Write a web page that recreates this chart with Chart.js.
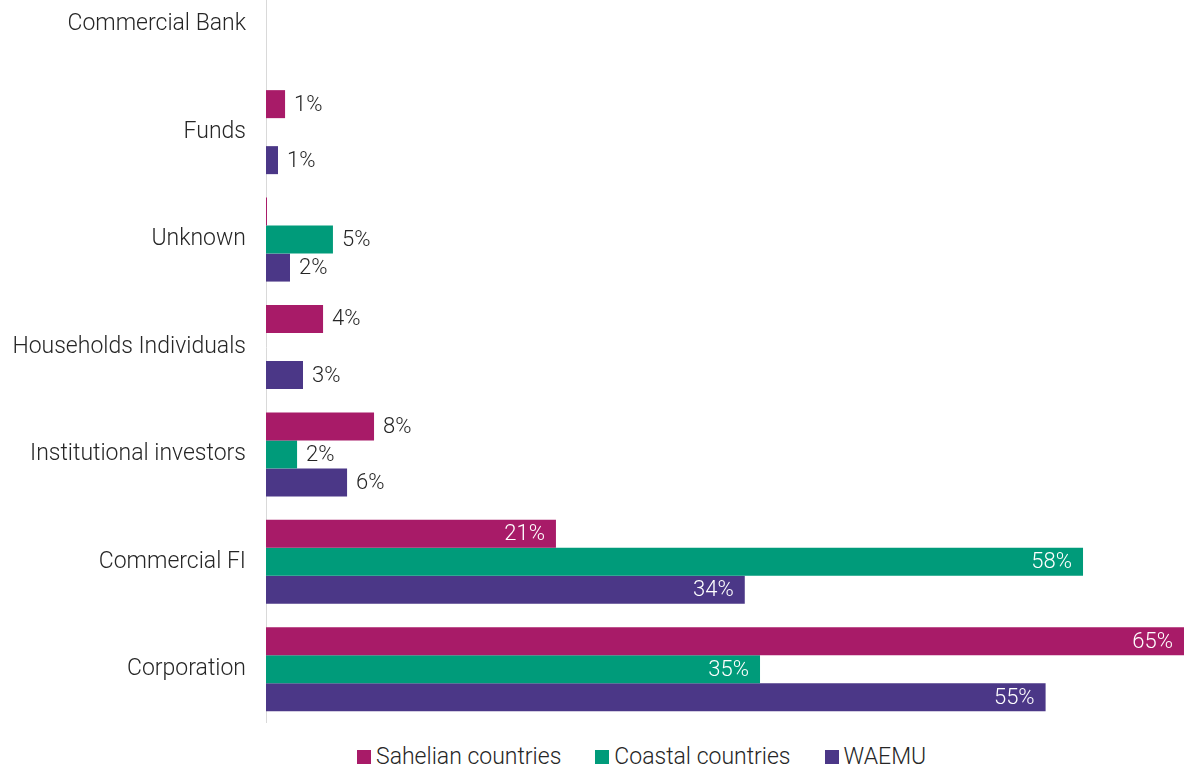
<!DOCTYPE html>
<html>
<head>
<meta charset="utf-8">
<title>Investor types</title>
<script src="https://cdn.jsdelivr.net/npm/chart.js@4.4.1/dist/chart.umd.min.js"></script>
<style>
  html, body { margin: 0; padding: 0; background: #fff; overflow: hidden; }
  #wrap { position: relative; width: 1184px; height: 770px; overflow: hidden; }
  #chart { position: absolute; left: 0; top: -29px; }
  #legend {
    position: absolute; left: 357px; top: 744px;
    display: flex; align-items: center;
    font: 300 23px Roboto, "Noto Sans", sans-serif; color: #262626;
    white-space: nowrap; line-height: 26px;
  }
  #legend .item { display: flex; align-items: center; margin-right: 34px; }
  #legend .box { width: 14px; height: 14px; margin-right: 5px; }
</style>
</head>
<body>
<div id="wrap">
  <canvas id="chart" width="1184" height="752"></canvas>
  <div id="legend"></div>
</div>
<script>
const categories = ['Commercial Bank', 'Funds', 'Unknown', 'Households Individuals', 'Institutional investors', 'Commercial FI', 'Corporation'];
const sahelian = [0, 1.35, 0.07, 4.04, 7.65, 20.53, 65];
const coastal = [0, 0, 4.74, 0, 2.2, 57.85, 34.98];
const waemu = [0, 0.85, 1.7, 2.62, 5.74, 33.9, 55.2];
const seriesNames = ['Sahelian countries', 'Coastal countries', 'WAEMU'];
const seriesColors = ['#A81B68', '#009B7A', '#4B3787'];

const FONT = 'Roboto, "Noto Sans", sans-serif';

// value labels: outside for small bars, white inside the end for large ones
const barLabels = {
  id: 'barLabels',
  afterDatasetsDraw(chart) {
    const ctx = chart.ctx;
    ctx.save();
    ctx.font = '300 22px ' + FONT;
    ctx.textBaseline = 'middle';
    chart.data.datasets.forEach((ds, i) => {
      const meta = chart.getDatasetMeta(i);
      meta.data.forEach((bar, j) => {
        const v = ds.data[j];
        if (v < 0.5) return;
        const txt = Math.round(v) + '%';
        if (v > 15) {
          ctx.fillStyle = '#ffffff';
          ctx.textAlign = 'right';
          ctx.fillText(txt, bar.x - 11, bar.y + 1);
        } else {
          ctx.fillStyle = '#262626';
          ctx.textAlign = 'left';
          ctx.fillText(txt, bar.x + 9, bar.y + 1);
        }
      });
    });
    ctx.restore();
  }
};

const chart = new Chart(document.getElementById('chart'), {
  type: 'bar',
  data: {
    labels: categories,
    datasets: [sahelian, coastal, waemu].map((d, i) => ({
      label: seriesNames[i],
      data: d,
      backgroundColor: seriesColors[i],
      borderWidth: 0,
      categoryPercentage: 0.782,
      barPercentage: 1
    }))
  },
  options: {
    indexAxis: 'y',
    responsive: false,
    animation: false,
    layout: { padding: 0 },
    scales: {
      x: { display: false, min: 0, max: 65 },
      y: {
        grid: { display: false },
        border: { color: '#d9d9d9', width: 1 },
        ticks: {
          color: '#262626',
          padding: 12,
          font: { family: FONT, size: 23, weight: 300 }
        },
        afterFit(scale) {
          scale.width = 266;
          // bands fill the whole height, no room kept for label halves
          scale.paddingTop = 0;
          scale.paddingBottom = 0;
        }
      }
    },
    plugins: {
      tooltip: { enabled: false },
      legend: { display: false }
    }
  },
  plugins: [barLabels]
});

// legend built from the datasets
const legendEl = document.getElementById('legend');
chart.data.datasets.forEach(ds => {
  const item = document.createElement('div');
  item.className = 'item';
  const box = document.createElement('span');
  box.className = 'box';
  box.style.background = ds.backgroundColor;
  item.appendChild(box);
  item.appendChild(document.createTextNode(ds.label));
  legendEl.appendChild(item);
});
</script>
</body>
</html>
